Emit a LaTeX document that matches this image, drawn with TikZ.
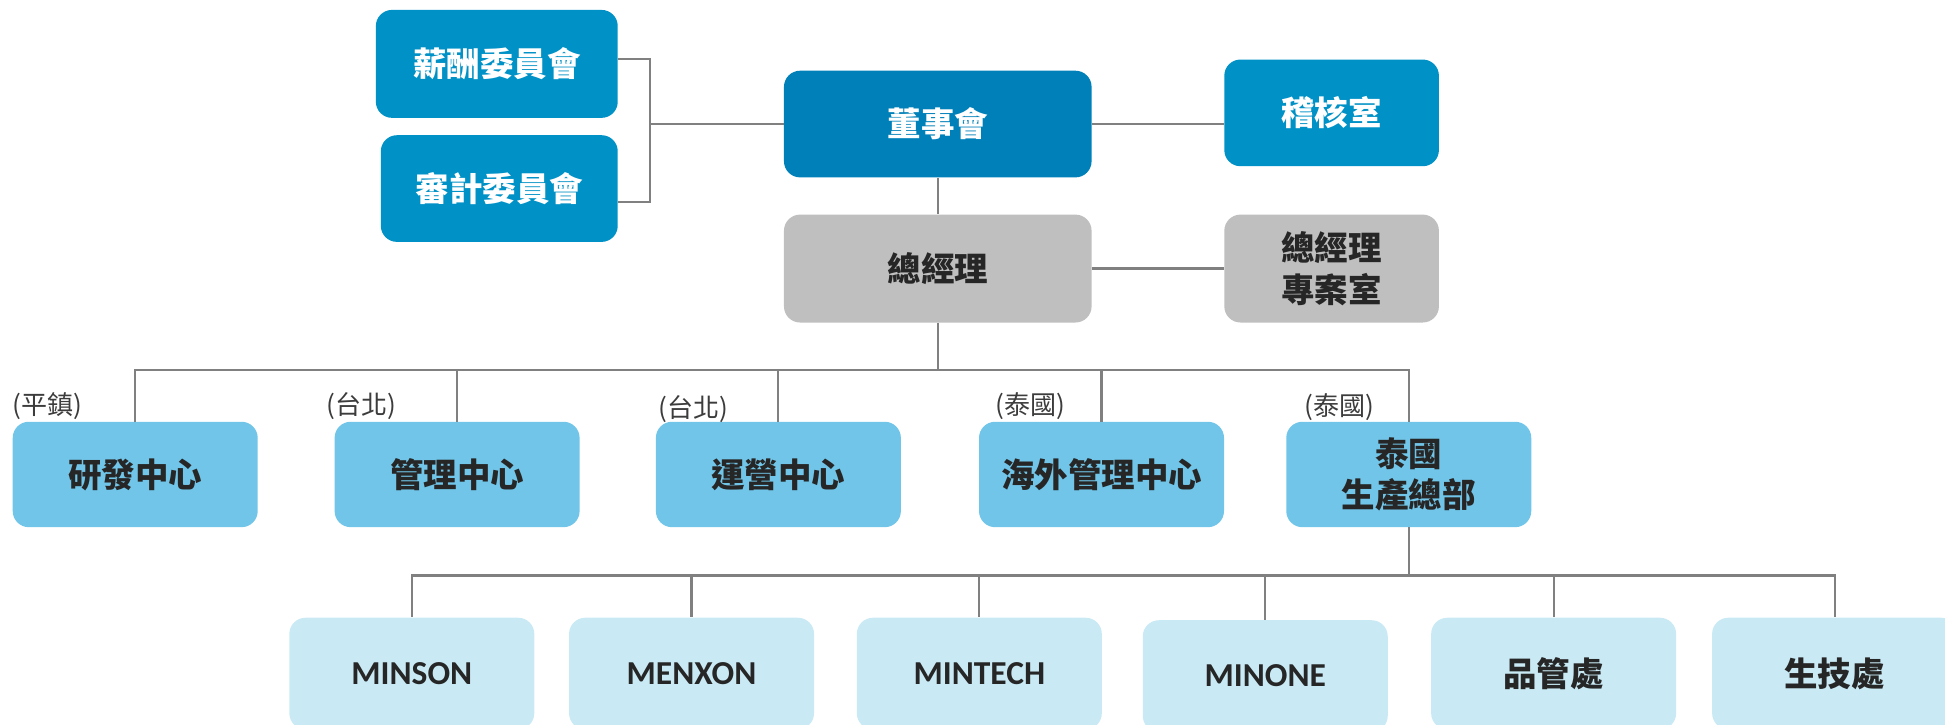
\documentclass[tikz,border=0pt]{standalone}
\usepackage{fontspec}
\newfontfamily\cjk{Noto Sans CJK TC}
\newfontfamily\carl{Carlito}
\definecolor{dblue}{RGB}{0,128,184}
\definecolor{mblue}{RGB}{0,145,198}
\definecolor{lblue}{RGB}{113,197,232}
\definecolor{pblue}{RGB}{201,234,245}
\definecolor{gbox}{RGB}{191,191,191}
\definecolor{tdark}{RGB}{38,38,38}
\definecolor{lgray}{RGB}{128,128,128}
\begin{document}
\begin{tikzpicture}[x=1pt,y=-1pt,
  box/.style={rectangle, rounded corners=13pt, inner sep=0pt, align=center,
    font=\cjk\bfseries\fontsize{27}{33.5}\selectfont},
  topbox/.style={box, fill=mblue, text=white},
  boardbox/.style={box, fill=dblue, text=white},
  graybox/.style={box, fill=gbox, text=tdark},
  midbox/.style={box, fill=lblue, text=tdark, minimum width=197.5pt, minimum height=85pt},
  lowbox/.style={box, fill=pblue, text=tdark, minimum width=197.5pt, minimum height=90pt},
  eng/.style={font=\carl\bfseries\fontsize{27}{33}\selectfont},
  conn/.style={draw=lgray, line width=1.8pt},
  loc/.style={font=\cjk\fontsize{21}{24}\selectfont, text=tdark!90, inner sep=0pt}
]
\useasboundingbox (0,0) rectangle (1568,583.7);

% top level
\node[topbox, minimum width=195pt, minimum height=87pt] (xc) at (400.5,51.5) {薪酬委員會};
\node[topbox, minimum width=191pt, minimum height=86pt] (sj) at (402.5,152) {審計委員會};
\node[boardbox, minimum width=248pt, minimum height=86pt] (dsh) at (756,100) {董事會};
\node[topbox, minimum width=173pt, minimum height=86pt] (jhs) at (1073.5,91) {稽核室};
\node[graybox, minimum width=248pt, minimum height=87pt] (zjl) at (756,216.5) {總經理};
\node[graybox, minimum width=173pt, minimum height=87pt] (zjlz) at (1073.5,216.5) {總經理\\專案室};

\coordinate (br) at (524,100);
\draw[conn] ([yshift=3.9pt]xc.east) -| (br);
\draw[conn] ([yshift=-10.6pt]sj.east) -| (br);
\draw[conn] (br) -- (dsh.west);
\draw[conn] (dsh.east) -- (dsh.east -| jhs.west);
\draw[conn] (dsh.south) -- (zjl.north);
\draw[conn] (zjl.east) -- (zjlz.west);

% second level
\node[midbox] (yf) at (109,382.5) {研發中心};
\node[midbox] (gl) at (368.5,382.5) {管理中心};
\node[midbox] (yy) at (627.5,382.5) {運營中心};
\node[midbox] (hw) at (888,382.5) {海外管理中心};
\node[midbox] (tg) at (1135.7,382.5) {泰國\\生產總部};

\coordinate (bus1) at (756,298);
\draw[conn] (zjl.south) -- (bus1);
\foreach \n in {yf,gl,yy,hw,tg} \draw[conn] (bus1) -| (\n.north);

\node[loc] (l1) at (38.5,327) {(平鎮)};
\node[loc] (l2) at (291.5,327) {(台北)};
\node[loc] (l3) at (559,330) {(台北)};
\node[loc] (l4) at (830.5,327) {(泰國)};
\node[loc] (l5) at (1080,328.5) {(泰國)};

% third level
\node[lowbox, eng] (ms) at (332,543) {MINSON};
\node[lowbox, eng] (mx) at (557.5,543) {MENXON};
\node[lowbox, eng] (mt) at (789.5,543) {MINTECH};
\node[lowbox, eng] (mo) at (1020,545) {MINONE};
\node[lowbox] (pg) at (1252.5,543) {品管處};
\node[lowbox] (sjc) at (1479,543) {生技處};

\coordinate (bus2) at (1135.7,464);
\draw[conn] (tg.south) -- (bus2);
\foreach \n in {ms,mx,mt,mo,pg,sjc} \draw[conn] (bus2) -| (\n.north);
\end{tikzpicture}
\end{document}
